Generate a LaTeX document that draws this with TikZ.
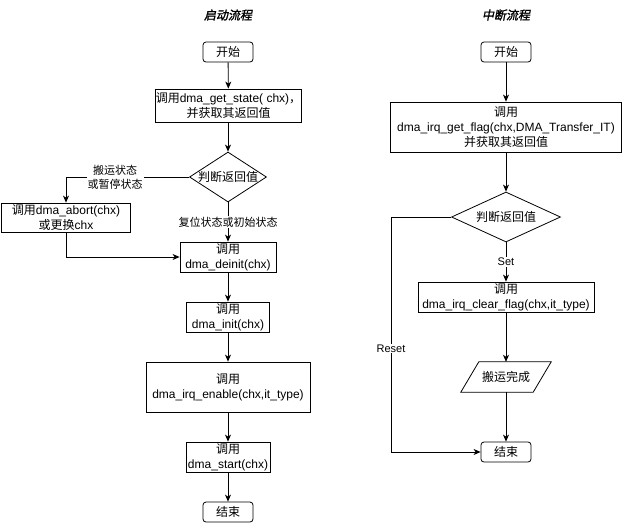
\documentclass[tikz,border=0pt]{standalone}
\usepackage{fontspec}
\setmainfont{Liberation Sans}
\newfontfamily\cjk{Noto Sans CJK SC}
\newfontfamily\cjktitle[FakeSlant=0.2,FakeBold=1.5]{Noto Sans CJK SC}
\usetikzlibrary{arrows.meta,shapes.geometric}
\begin{document}
\begin{tikzpicture}[x=1pt,y=-1pt,
  every node/.style={font=\fontsize{12}{15}\selectfont, align=center, inner sep=0pt},
  box/.style={draw, rectangle, line width=0.8pt},
  term/.style={draw, rectangle, rounded corners=3pt, minimum width=50pt, minimum height=20pt, line width=0.8pt},
  dec/.style={draw, diamond, minimum width=#1, minimum height=50pt, inner sep=0pt, line width=0.8pt},
  conn/.style={draw, line width=0.8pt, -{Stealth[length=7pt,width=6pt,inset=2pt]}},
  lbl/.style={fill=white, inner sep=1pt, font=\fontsize{11}{14}\selectfont},
  ttl/.style={font=\fontsize{12}{15}\selectfont\cjktitle}]
\useasboundingbox (0,0) rectangle (622,523);

% ---------- left flow ----------
\node[ttl] (t1) at (228,15) {启动流程};
\node[term] (s1) at (228,52) {\cjk 开始};
\node[box, minimum width=145pt, minimum height=33pt] (b1) at (228.5,105.5)
  {{\cjk 调用}dma\_get\_state( chx){\cjk ，}\\{\cjk 并获取其返回值}};
\node[dec=77pt] (d1) at (228,177) {\makebox[0pt]{\cjk 判断返回值}};
\node[box, minimum width=129pt, minimum height=29pt] (ab) at (66,217.5)
  {{\cjk 调用}dma\_abort(chx)\\{\cjk 或更换}chx};
\node[box, minimum width=96pt, minimum height=30pt] (de) at (228,257)
  {{\cjk 调用}\\dma\_deinit(chx)};
\node[box, minimum width=83pt, minimum height=30pt] (in) at (228,317)
  {{\cjk 调用}\\dma\_init(chx)};
\node[box, minimum width=164pt, minimum height=50pt] (en) at (228,387)
  {{\cjk 调用}\\dma\_irq\_enable(chx,it\_type)};
\node[box, minimum width=84pt, minimum height=30pt] (st) at (228,457)
  {{\cjk 调用}\\dma\_start(chx)};
\node[term] (e1) at (228,512) {\cjk 结束};

\draw[conn] (s1) -- (b1);
\draw[conn] (b1.south -| d1) -- (d1);
\draw[conn] (d1.west) -| node[lbl, pos=0.3]{{\cjk 搬运状态}\\{\cjk 或暂停状态}} (ab.north);
\draw[conn] (d1.south) -- node[lbl]{\cjk 复位状态或初始状态} (de.north);
\draw[conn] (ab.south) |- (de.west);
\draw[conn] (de) -- (in);
\draw[conn] (in) -- (en);
\draw[conn] (en) -- (st);
\draw[conn] (st) -- (e1);

% ---------- right flow ----------
\node[ttl] (t2) at (506,15) {中断流程};
\node[term] (s2) at (506,52) {\cjk 开始};
\node[box, minimum width=231pt, minimum height=50pt] (b2) at (506,127)
  {{\cjk 调用}\\dma\_irq\_get\_flag(chx,DMA\_Transfer\_IT)\\{\cjk 并获取其返回值}};
\node[dec=109pt] (d2) at (506,217) {\makebox[0pt]{\cjk 判断返回值}};
\node[box, minimum width=176pt, minimum height=30pt] (b3) at (506,297)
  {{\cjk 调用}\\dma\_irq\_clear\_flag(chx,it\_type)};
\node[minimum width=72pt, minimum height=30pt] (pa) at (506,377) {\cjk 搬运完成};
\draw[line width=0.8pt] ([xshift=9pt]pa.north west) -- ([xshift=9pt]pa.north east)
  -- ([xshift=-9pt]pa.south east) -- ([xshift=-9pt]pa.south west) -- cycle;
\node[term] (e2) at (506,452) {\cjk 结束};
\coordinate (rc) at (391,452);

\draw[conn] (s2) -- (b2);
\draw[conn] (b2) -- (d2);
\draw[conn] (d2.south) -- node[lbl]{Set} (b3.north);
\draw[conn] (b3) -- (pa);
\draw[conn] (pa) -- (e2);
\draw[conn] (d2.west) -| node[lbl, pos=0.78]{Reset} (rc) -- (e2.west);
\end{tikzpicture}
\end{document}
